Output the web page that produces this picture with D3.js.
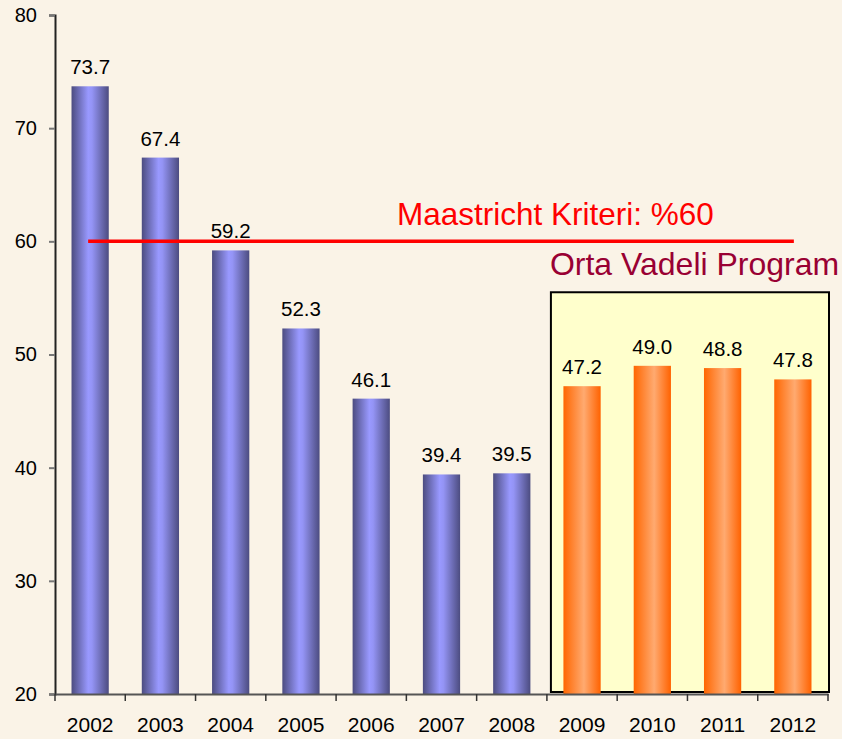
<!DOCTYPE html>
<html>
<head>
<meta charset="utf-8">
<script src="https://cdn.jsdelivr.net/npm/d3@7"></script>
<style>
  html, body { margin: 0; padding: 0; background: #faf3e7; }
  svg { display: block; font-family: "Liberation Sans", Arial, sans-serif; }
</style>
</head>
<body>
<div id="chart"></div>
<script>
const years = ["2002", "2003", "2004", "2005", "2006", "2007", "2008", "2009", "2010", "2011", "2012"]
const debt = [73.7, 67.4, 59.2, 52.3, 46.1, 39.4, 39.5, 47.2, 49.0, 48.8, 47.8]
const programYears = ["2009", "2010", "2011", "2012"]
const yTicks = [20, 30, 40, 50, 60, 70, 80]
const criterion = 60

const width = 842, height = 739
const margin = { top: 15, right: 14, bottom: 45, left: 55 }

const svg = d3.select("#chart").append("svg")
  .attr("width", width)
  .attr("height", height)

svg.append("rect")
  .attr("width", width).attr("height", height)
  .attr("fill", "#faf3e7")

const x = d3.scaleBand()
  .domain(years)
  .range([margin.left, width - margin.right])
  .paddingInner(0.47)
  .paddingOuter(0.235)

const y = d3.scaleLinear()
  .domain([20, 80])
  .range([height - margin.bottom, margin.top])

// gradients
const defs = svg.append("defs")
const blue = defs.append("linearGradient").attr("id", "gBlue")
blue.append("stop").attr("offset", "0%").attr("stop-color", "#4c4c80")
blue.append("stop").attr("offset", "45%").attr("stop-color", "#9999ff")
blue.append("stop").attr("offset", "55%").attr("stop-color", "#9494f5")
blue.append("stop").attr("offset", "100%").attr("stop-color", "#4c4c80")

const orange = defs.append("linearGradient").attr("id", "gOrange")
orange.append("stop").attr("offset", "0%").attr("stop-color", "#ff6600")
orange.append("stop").attr("offset", "55%").attr("stop-color", "#ffaa70")
orange.append("stop").attr("offset", "100%").attr("stop-color", "#ff6200")

// program box
const step = x.step()
const gap = (step - x.bandwidth()) / 2
const boxLeft = x(programYears[0]) - gap + 4
const boxRight = x(programYears[programYears.length - 1]) + x.bandwidth() + gap + 1
svg.append("rect")
  .attr("x", boxLeft)
  .attr("y", y(55.5))
  .attr("width", boxRight - boxLeft)
  .attr("height", y(20) - y(55.5) - 2)
  .attr("fill", "#ffffcc")
  .attr("stroke", "#000")
  .attr("stroke-width", 2)

// bars
const data = years.map((yr, i) => ({ year: yr, value: debt[i] }))
svg.append("g")
  .selectAll("rect")
  .data(data)
  .join("rect")
    .attr("x", d => x(d.year))
    .attr("y", d => y(d.value))
    .attr("width", x.bandwidth())
    .attr("height", d => y(20) - y(d.value))
    .attr("fill", d => programYears.includes(d.year) ? "url(#gOrange)" : "url(#gBlue)")

// value labels
svg.append("g")
  .selectAll("text")
  .data(data)
  .join("text")
    .attr("x", d => x(d.year) + x.bandwidth() / 2)
    .attr("y", d => y(d.value) - 12)
    .attr("text-anchor", "middle")
    .style("font-size", "20.5px")
    .attr("fill", "#000")
    .text(d => d.value.toFixed(1))

// criterion line
svg.append("line")
  .attr("x1", x(years[0]) + x.bandwidth() / 2 - 2)
  .attr("x2", x(years[years.length - 1]) + x.bandwidth() / 2 + 1)
  .attr("y1", y(criterion))
  .attr("y2", y(criterion))
  .attr("stroke", "#ff0000")
  .attr("stroke-width", 3.5)

svg.append("text")
  .attr("x", 397)
  .attr("y", y(criterion) - 16)
  .attr("fill", "#ff0000")
  .style("font-size", "31.5px")
  .text("Maastricht Kriteri: %" + criterion)

svg.append("text")
  .attr("x", boxLeft - 1)
  .attr("y", y(57.0))
  .attr("fill", "#990033")
  .style("font-size", "32px")
  .text("Orta Vadeli Program")

// axes
const yAxis = svg.append("g")
  .attr("transform", `translate(${margin.left},0)`)
  .call(d3.axisLeft(y).tickValues(yTicks).tickSize(6).tickPadding(12))
yAxis.select(".domain").attr("stroke", "#222").attr("stroke-width", 2)
yAxis.selectAll(".tick line").attr("stroke", "#777").attr("stroke-width", 2)
yAxis.selectAll("text").style("font-size", "20px").attr("fill", "#000")
  .style("font-family", "Liberation Sans, Arial, sans-serif")

const xAxis = svg.append("g")
  .attr("transform", `translate(0,${y(20)})`)
  .call(d3.axisBottom(x).tickSize(0).tickPadding(23))
xAxis.select(".domain").attr("stroke", "#555").attr("stroke-width", 2)
xAxis.selectAll("text").style("font-size", "21px").attr("fill", "#000")
  .style("font-family", "Liberation Sans, Arial, sans-serif")

// category separator ticks
const sepPos = years.map(yr => x(yr) - gap)
sepPos.push(width - margin.right)
xAxis.selectAll(".sep")
  .data(sepPos)
  .join("line")
    .attr("class", "sep")
    .attr("x1", d => d).attr("x2", d => d)
    .attr("y1", 0).attr("y2", 7)
    .attr("stroke", "#333")
    .attr("stroke-width", 1.5)
</script>
</body>
</html>
